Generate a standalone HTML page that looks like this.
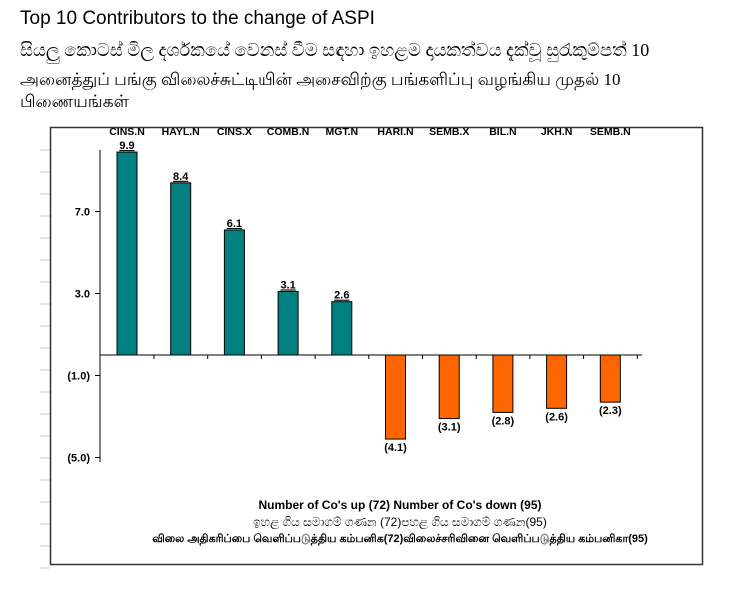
<!DOCTYPE html>
<html><head><meta charset="utf-8"><style>
body{margin:0;width:750px;height:600px;background:#fff;overflow:hidden;font-family:"Liberation Sans",sans-serif}
.t{position:absolute;left:20px;white-space:nowrap;color:#000}
</style></head><body>
<div class="t" style="top:8px;font-size:19px">Top 10 Contributors to the change of ASPI</div>
<div class="t" style="top:40px;font-size:18px;font-family:'Liberation Serif',serif">සියලු කොටස් මිල දර්ශකයේ වෙනස් වීම සඳහා ඉහළම දායකත්වය දැක්වූ සුරැකුම්පත් 10</div>
<div class="t" style="top:70px;font-size:17px;font-family:'Liberation Serif',serif">அனைத்துப் பங்கு விலைச்சுட்டியின் அசைவிற்கு பங்களிப்பு வழங்கிய முதல் 10</div>
<div class="t" style="top:92px;font-size:17px;font-family:'Liberation Serif',serif">பிணையங்கள்</div>
<svg id="c" width="750" height="600" style="position:absolute;left:0;top:0"></svg>
<script>
const categories=["CINS.N","HAYL.N","CINS.X","COMB.N","MGT.N","HARI.N","SEMB.X","BIL.N","JKH.N","SEMB.N"];
const values=[9.9,8.4,6.1,3.1,2.6,-4.1,-3.1,-2.8,-2.6,-2.3];
const valueLabels=["9.9","8.4","6.1","3.1","2.6","(4.1)","(3.1)","(2.8)","(2.6)","(2.3)"];
const yTicks=[7,3,-1,-5];
const yTickLabels=["7.0","3.0","(1.0)","(5.0)"];
const footer=["Number of Co's up (72) Number of Co's down  (95)","ඉහළ ගිය සමාගම් ගණන (72)පහළ ගිය සමාගම් ගණන(95)","விலை அதிகரிப்பை வெளிப்படுத்திய கம்பனிக(72)விலைச்சரிவினை வெளிப்படுத்திய கம்பனிகா(95)"];
const svg=document.getElementById('c');const NS='http://www.w3.org/2000/svg';
function mk(t,a,p){const e=document.createElementNS(NS,t);for(const k in a)e.setAttribute(k,a[k]);(p||svg).appendChild(e);return e;}
const y=v=>355-v*20.5;const x=i=>127+i*53.7;
for(let gy=150;gy<580;gy+=22){const g=mk('line',{x1:40,y1:gy,x2:50,y2:gy,stroke:'#ccc'});
}
const box=mk('rect',{x:50.5,y:127.5,width:652,height:437,fill:'none',stroke:'#333','stroke-width':1.5});

const ax=mk('line',{x1:100,y1:150,x2:100,y2:462,stroke:'#000'});

const zl=mk('line',{x1:100,y1:y(0),x2:642,y2:y(0),stroke:'#000'});

yTicks.forEach((v,i)=>{const t=mk('text',{x:90,y:y(v)+4,'text-anchor':'end','font-size':11,'font-weight':'bold'});t.textContent=yTickLabels[i];

const tm=mk('line',{x1:95,y1:y(v),x2:100,y2:y(v),stroke:'#000'});
});
categories.forEach((c,i)=>{
const v=values[i];const cx=x(i);
const r=mk('rect',{x:cx-10,y:Math.min(y(v),y(0)),width:20,height:Math.abs(y(v)-y(0)),fill:v>=0?'#008080':'#ff6600',stroke:'#000','stroke-width':1});

const tk=mk('line',{x1:cx+27,y1:y(0),x2:cx+27,y2:y(0)+4,stroke:'#000'});

const l=mk('text',{x:cx,y:135,'text-anchor':'middle','font-size':10.5,'font-weight':'bold'});l.textContent=c;

const vl=mk('text',{x:cx,y:v>=0?y(v)-3:y(v)+12,'text-anchor':'middle','font-size':11,'font-weight':'bold','text-decoration':v>=0?'underline':'none'});vl.textContent=valueLabels[i];

});
[[509,12,'bold'],[526,12,'normal'],[542,11,'bold']].forEach((f,i)=>{const t=mk('text',{x:400,y:f[0],'text-anchor':'middle','font-size':f[1],'font-weight':f[2]});t.textContent=footer[i];
});
</script>
</body></html>
